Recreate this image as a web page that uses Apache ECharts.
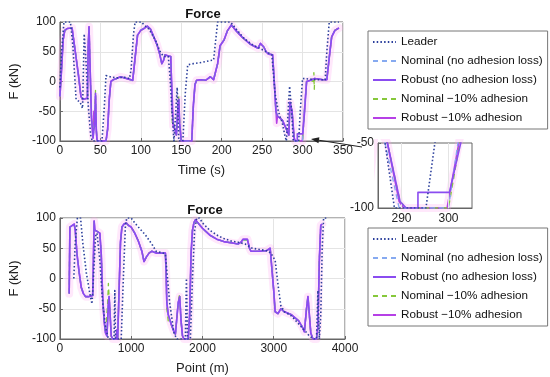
<!DOCTYPE html>
<html><head><meta charset="utf-8">
<script src="https://cdn.jsdelivr.net/npm/echarts@6/dist/echarts.min.js"></script>
<style>html,body{margin:0;padding:0;background:#fff}#c{width:550px;height:377px}</style>
</head><body><div id="c"></div>
<script>
// ---------- names / ticks ----------
const seriesNames = ['Leader','Nominal (no adhesion loss)','Robust (no adhesion loss)','Nominal −10% adhesion','Robust −10% adhesion'];
const titles = ['Force','Force'];
const axisNames = {topX:'Time (s)', bottomX:'Point (m)', y:'F (kN)'};
const topXRange = [0, 350, 50];
const bottomXRange = [0, 4000, 1000];
const yRange = [-100, 100, 50];
const insetXRange = [285, 305];
const insetXTicks = [290, 300];
const insetYRange = [-100, -50, 50];

// ---------- top chart: time (s) vs force (kN) ----------
const topLeader = [[0,-10],[2,50],[5,100],[13,100],[16,60],[20,-30],[25,-35],[28,-45],[30,80],[32,40],[35,-40],[38,-90],[40,-100],[52,-100],[55,-40],[57,10],[62,8],[70,6],[80,7],[86,5],[88,20],[91,80],[93,100],[101,100],[104,95],[110,88],[118,70],[124,50],[128,42],[134,42],[136,10],[139,-60],[141,-100],[143,-100],[145,-10],[147,-100],[152,-100],[155,-20],[158,28],[165,30],[175,32],[185,35],[190,36],[195,100],[211,100],[218,88],[228,72],[238,62],[248,55],[258,48],[262,45],[266,-20],[270,-50],[275,-70],[278,-90],[280,-100],[282,-100],[284,-8],[286.5,-50],[288.5,-100],[295.2,-100],[297.1,-50],[300,5],[310,4],[320,3],[328,3],[330,50],[333,100],[345,100]];
const topNominal = [[0,-25],[2,25],[4,72],[6,86],[9,89],[15,90],[17,70],[20,40],[23,10],[26,-25],[28,-30],[34,-28],[35,60],[36,90],[37,40],[39,-60],[41,-95],[43,-70],[44,-20],[45,-80],[46,-100],[57,-100],[59,-80],[61,-30],[63,0],[66,3],[70,5],[75,8],[80,6],[85,4],[90,2],[93,42],[96,80],[100,87],[105,90],[108,93],[112,88],[116,75],[120,62],[123,48],[126,30],[128,35],[130,45],[134,43],[137,42],[138,0],[139,-50],[140,-70],[142,-80],[144,-90],[146,-40],[147,-30],[148,-70],[150,-100],[163,-100],[165,-40],[167,-5],[169,2],[175,3],[180,2],[183,5],[186,8],[190,3],[192,2],[195,30],[198,60],[203,70],[207,85],[212,95],[218,85],[225,75],[235,63],[245,56],[248,63],[250,65],[252,58],[255,50],[258,46],[263,45],[265,0],[267,-50],[269,-58],[271,-55],[275,-65],[280,-80],[283,-90],[284.5,-35],[286.5,-50],[289.5,-100],[300,-100],[302,-50],[305,0],[310,2],[315,5],[320,4],[325,3],[330,3],[333,42],[336,76],[340,86],[345,90]];
const topRobust = [[0,-25],[2,20],[4,70],[6,86],[9,89],[15,90],[17,70],[20,40],[23,10],[26,-25],[28,-30],[34,-28],[35,60],[36,92],[37,40],[39,-60],[41,-95],[43,-70],[44,-20],[45,-80],[46,-100],[57,-100],[59,-80],[61,-30],[63,0],[66,3],[70,5],[75,8],[80,6],[85,4],[90,2],[93,40],[96,78],[100,86],[105,90],[108,93],[112,88],[116,75],[120,62],[123,48],[126,30],[128,35],[130,45],[134,43],[137,42],[138,0],[139,-50],[140,-70],[142,-80],[144,-90],[146,-40],[147,-30],[148,-70],[150,-100],[163,-100],[165,-40],[167,-5],[169,2],[175,3],[180,2],[183,5],[186,8],[190,3],[192,2],[195,30],[198,60],[203,70],[207,85],[212,95],[218,85],[225,75],[235,63],[245,56],[248,64],[250,66],[252,58],[255,50],[258,46],[263,45],[265,0],[267,-50],[269,-58],[271,-55],[275,-65],[280,-80],[283,-90],[284.5,-35],[287,-50],[289.7,-95],[291,-100],[293.5,-100],[293.5,-88],[300.2,-88],[302.6,-50],[305,0],[310,2],[315,5],[320,4],[325,3],[330,3],[333,40],[336,75],[340,86],[345,90]];
const topNominal10 = [[0,-25],[2,22],[4,70],[6,85],[9,89],[15,90],[17,70],[20,40],[23,10],[26,-25],[28,-30],[34,-28],[35,60],[36,90],[37,40],[39,-60],[41,-90],[43,-60],[44,-15],[45,-80],[46,-100],[57,-100],[59,-80],[61,-30],[63,0],[66,3],[70,5],[75,8],[80,6],[85,4],[90,2],[93,40],[96,78],[100,86],[105,90],[108,93],[112,88],[116,75],[120,62],[123,48],[126,30],[128,35],[130,45],[134,43],[137,42],[138,-10],[139,-70],[140,-60],[142,-80],[144,-90],[146,-40],[147,-25],[148,-70],[150,-100],[163,-100],[165,-40],[167,-5],[169,2],[175,3],[180,2],[183,5],[186,8],[190,3],[192,2],[195,30],[198,60],[203,70],[207,85],[212,95],[218,85],[225,75],[235,63],[245,56],[248,64],[250,66],[252,58],[255,50],[258,46],[263,45],[265,0],[267,-50],[269,-58],[271,-55],[275,-65],[280,-80],[283,-90],[284.5,-35],[287,-50],[289.7,-95],[291,-100],[300,-100],[302.4,-50],[305,0],[310,2],[313,0],[314,15],[314.5,-13],[315,5],[320,4],[325,3],[330,3],[333,40],[336,75],[340,86],[345,90]];
const topRobust10 = [[0,-25],[2,20],[4,70],[6,86],[9,89],[15,90],[17,70],[20,40],[23,10],[26,-25],[28,-30],[34,-28],[35,60],[36,92],[37,40],[39,-60],[41,-95],[42,-50],[43,-75],[44,-25],[45,-85],[46,-100],[57,-100],[59,-80],[61,-30],[63,0],[66,3],[70,5],[75,8],[80,6],[85,4],[90,2],[93,40],[96,78],[100,86],[105,90],[108,93],[112,88],[116,75],[120,62],[123,48],[126,30],[128,35],[130,45],[134,43],[137,42],[138,0],[139,-30],[140,-75],[142,-80],[144,-90],[146,-40],[147,-30],[148,-70],[150,-100],[163,-100],[165,-40],[167,-5],[169,2],[175,3],[180,2],[183,5],[186,8],[190,3],[192,2],[195,30],[198,60],[203,70],[207,85],[212,95],[218,85],[225,75],[235,63],[245,56],[248,64],[250,66],[252,58],[255,50],[258,46],[263,45],[265,0],[267,-45],[268,-70],[269,-58],[271,-55],[275,-65],[280,-80],[283,-90],[284.5,-35],[287,-50],[289.5,-95],[290.5,-100],[299.7,-100],[302.2,-50],[305,0],[310,2],[315,5],[320,4],[325,3],[330,3],[333,40],[336,75],[340,86],[345,90]];

// ---------- bottom chart: point (m) vs force (kN) ----------
const bottomLeader = [[195,0],[215,60],[245,100],[290,100],[320,60],[370,10],[420,-25],[450,-42],[470,0],[500,70],[520,75],[560,30],[600,-40],[640,-80],[680,-100],[760,-100],[770,-20],[780,-100],[860,-100],[890,0],[920,90],[940,100],[1000,100],[1050,92],[1100,85],[1200,72],[1300,55],[1350,45],[1450,42],[1480,40],[1540,-40],[1600,-90],[1640,-100],[1760,-100],[1775,0],[1790,-100],[1830,-100],[1860,0],[1890,80],[1920,100],[1960,100],[2000,92],[2100,80],[2200,72],[2300,66],[2400,62],[2500,60],[2600,57],[2700,50],[2800,48],[2900,46],[2960,42],[3020,30],[3060,-10],[3100,-45],[3150,-55],[3250,-62],[3350,-75],[3450,-88],[3500,-95],[3560,-100],[3600,-100],[3620,-20],[3640,-100],[3660,-60],[3680,50],[3700,100],[3750,100]];
const bottomNominal = [[130,-25],[140,85],[160,88],[200,90],[215,80],[240,40],[270,10],[300,-15],[330,-25],[360,-30],[400,-30],[460,-28],[470,30],[480,93],[490,80],[520,78],[560,75],[580,40],[600,-30],[620,-70],[640,-90],[660,-95],[680,-40],[690,-30],[700,-50],[720,-95],[740,-100],[790,-100],[800,-85],[810,-100],[830,-20],[850,62],[870,85],[900,90],[930,92],[960,88],[1000,85],[1050,75],[1100,62],[1150,45],[1180,28],[1210,35],[1250,42],[1290,45],[1350,42],[1480,42],[1490,10],[1500,-40],[1520,-60],[1560,-75],[1600,-88],[1620,-92],[1660,-40],[1680,-30],[1700,-70],[1720,-95],[1740,-100],[1800,-100],[1820,-60],[1840,40],[1860,80],[1880,92],[1900,97],[1950,90],[2000,83],[2100,72],[2200,65],[2300,61],[2400,59],[2500,57],[2540,60],[2570,64],[2630,64],[2660,50],[2680,45],[2800,45],[2900,46],[2950,50],[3000,-20],[3020,-55],[3060,-58],[3100,-50],[3150,-55],[3250,-60],[3350,-70],[3400,-80],[3430,-88],[3460,-50],[3480,-30],[3500,-60],[3520,-90],[3550,-100],[3600,-100],[3620,-80],[3640,30],[3660,88],[3680,92]];
const bottomRobust = [[130,-25],[140,85],[160,88],[200,90],[215,80],[240,40],[270,10],[300,-15],[330,-25],[360,-30],[400,-30],[460,-28],[470,30],[480,95],[490,80],[520,78],[560,75],[580,40],[600,-30],[620,-70],[640,-90],[660,-95],[680,-40],[690,-30],[700,-50],[720,-95],[740,-100],[790,-100],[800,-85],[810,-100],[830,-20],[850,60],[870,85],[900,90],[930,92],[960,88],[1000,85],[1050,75],[1100,62],[1150,45],[1180,28],[1210,35],[1250,42],[1290,45],[1350,42],[1480,42],[1490,10],[1500,-40],[1520,-60],[1560,-75],[1600,-88],[1620,-92],[1660,-40],[1680,-30],[1700,-70],[1720,-95],[1740,-100],[1800,-100],[1820,-60],[1840,40],[1860,80],[1880,92],[1900,97],[1950,90],[2000,83],[2100,72],[2200,65],[2300,61],[2400,59],[2500,57],[2540,60],[2570,65],[2630,65],[2660,50],[2680,45],[2800,45],[2900,46],[2950,50],[3000,-20],[3020,-55],[3060,-58],[3100,-50],[3150,-55],[3250,-60],[3350,-70],[3400,-80],[3430,-88],[3460,-50],[3480,-30],[3500,-60],[3520,-90],[3550,-100],[3600,-100],[3620,-80],[3640,30],[3660,88],[3680,90]];
const bottomNominal10 = [[130,-25],[140,85],[160,88],[200,90],[215,80],[240,40],[270,10],[300,-15],[330,-25],[360,-30],[400,-30],[460,-28],[470,30],[480,93],[490,80],[520,78],[560,75],[580,40],[600,-30],[620,-70],[640,-90],[660,-90],[670,-40],[680,-8],[690,-30],[700,-50],[720,-95],[740,-100],[790,-100],[800,-85],[810,-100],[830,-20],[850,60],[870,85],[900,90],[930,92],[960,88],[1000,85],[1050,75],[1100,62],[1150,45],[1180,28],[1210,35],[1250,42],[1290,45],[1350,42],[1480,42],[1490,10],[1500,-50],[1520,-70],[1560,-75],[1600,-88],[1620,-92],[1660,-40],[1680,-25],[1700,-70],[1720,-95],[1740,-100],[1800,-100],[1820,-60],[1840,40],[1860,80],[1880,92],[1900,97],[1950,90],[2000,83],[2100,72],[2200,65],[2300,61],[2400,59],[2500,57],[2540,60],[2570,63],[2630,63],[2660,50],[2680,45],[2800,45],[2900,46],[2950,50],[3000,-20],[3020,-55],[3060,-58],[3100,-50],[3150,-55],[3250,-60],[3350,-70],[3400,-80],[3430,-88],[3460,-50],[3480,-30],[3500,-60],[3520,-90],[3550,-100],[3600,-100],[3620,-80],[3640,30],[3660,88],[3680,92]];
const bottomRobust10 = [[130,-25],[140,85],[160,88],[200,90],[215,80],[240,40],[270,10],[300,-15],[330,-25],[360,-30],[400,-30],[460,-28],[470,30],[480,95],[490,80],[520,78],[560,75],[580,40],[600,-30],[620,-70],[640,-90],[660,-95],[680,-40],[690,-30],[700,-50],[720,-95],[740,-100],[790,-100],[800,-85],[810,-100],[830,-20],[850,60],[870,85],[900,90],[930,92],[960,88],[1000,85],[1050,75],[1100,62],[1150,45],[1180,28],[1210,35],[1250,42],[1290,45],[1350,42],[1480,42],[1490,10],[1500,-40],[1520,-60],[1560,-75],[1600,-88],[1620,-92],[1660,-40],[1680,-30],[1700,-70],[1720,-95],[1740,-100],[1800,-100],[1820,-60],[1840,40],[1860,80],[1880,92],[1900,97],[1950,90],[2000,83],[2100,72],[2200,65],[2300,61],[2400,59],[2500,57],[2540,60],[2570,65],[2630,65],[2660,50],[2680,45],[2800,45],[2900,46],[2950,50],[3000,-20],[3020,-55],[3060,-58],[3100,-50],[3150,-55],[3250,-60],[3350,-70],[3400,-80],[3430,-88],[3460,-50],[3480,-30],[3500,-60],[3520,-90],[3550,-100],[3600,-100],[3620,-80],[3640,30],[3660,88],[3680,90]];

// ---------- styling ----------
const FONT = 'Liberation Sans, Arial, Helvetica, sans-serif';
const styles = [
  {color:'#2b3f9c', width:1.6, type:[1.5,2.2], z:7},
  {color:'#86aaf0', width:1.3, type:[5,4], z:4},
  {color:'#8a4cf0', width:1.6, type:'solid', z:6},
  {color:'#86c83a', width:1.3, type:[5,4], z:3},
  {color:'#b640e6', width:1.6, type:'solid', z:2}
];
const bandColor = 'rgba(255,160,238,0.24)';
const gridColor = '#e4e4e4';
const frameColor = '#666';
const plainNum = v => String(v);

function mkSeries(name, data, gi, st) {
  return {type:'line', name:name, data:data, xAxisIndex:gi, yAxisIndex:gi,
    symbol:'none', showSymbol:false, silent:true, z:st.z, animation:false,
    lineStyle:{color:st.color, width:st.width, type:st.type, cap:'butt', join:'round'},
    itemStyle:{color:st.color}};
}
function seriesFor(gi, sets) {
  const out = [];
  const band = {type:'line', name:'band', data:sets[4], xAxisIndex:gi, yAxisIndex:gi,
    symbol:'none', silent:true, z:1, animation:false,
    lineStyle:{color:bandColor, width:8, join:'round', cap:'round'}};
  if (gi === 2) {
    band.markLine = {silent:true, symbol:'none', label:{show:false}, animation:false,
      lineStyle:{color:gridColor, type:'solid', width:1},
      data: insetXTicks.map(v => ({xAxis:v}))};
  }
  out.push(band);
  sets.forEach((d,i) => out.push(mkSeries(seriesNames[i], d, gi, styles[i])));
  return out;
}
const topSets = [topLeader, topNominal, topRobust, topNominal10, topRobust10];
const bottomSets = [bottomLeader, bottomNominal, bottomRobust, bottomNominal10, bottomRobust10];

const labelStyle = {fontFamily:FONT, fontSize:12, color:'#222', formatter:plainNum};
function xAxisCfg(gi, r, name) {
  return {type:'value', gridIndex:gi, min:r[0], max:r[1], interval:r[2],
    name:name, nameLocation:'middle', nameGap:23,
    nameTextStyle:{fontFamily:FONT, fontSize:13, color:'#222'},
    axisLine:{show:true, onZero:false, lineStyle:{color:frameColor}},
    axisTick:{show:true, inside:true, length:3, lineStyle:{color:frameColor}},
    axisLabel:Object.assign({margin:4}, labelStyle),
    splitLine:{show:true, lineStyle:{color:gridColor}}};
}
function yAxisCfg(gi, r, name) {
  return {type:'value', gridIndex:gi, min:r[0], max:r[1], interval:r[2],
    name:name, nameLocation:'middle', nameGap:30, nameRotate:90,
    nameTextStyle:{fontFamily:FONT, fontSize:13, color:'#222'},
    axisLine:{show:true, onZero:false, lineStyle:{color:frameColor}},
    axisTick:{show:true, inside:true, length:3, lineStyle:{color:frameColor}},
    axisLabel:Object.assign({margin:4}, labelStyle),
    splitLine:{show:true, lineStyle:{color:gridColor}}};
}

const legendBase = {orient:'vertical', left:368, itemWidth:23, itemHeight:14, itemGap:5,
  padding:[4,5,4,4], borderColor:'#777', borderWidth:1, backgroundColor:'#fff',
  selectedMode:false, data:seriesNames,
  itemStyle:{opacity:0, borderWidth:0},
  textStyle:{fontFamily:FONT, fontSize:11.7, color:'#111', lineHeight:14}};

const insetX = {type:'value', gridIndex:2, min:insetXRange[0], max:insetXRange[1],
  axisLine:{show:true, onZero:false, lineStyle:{color:frameColor}},
  axisTick:{show:true, inside:true, length:3, customValues:insetXTicks, lineStyle:{color:frameColor}},
  axisLabel:Object.assign({margin:5, customValues:insetXTicks}, labelStyle),
  splitLine:{show:false}};
const insetY = {type:'value', gridIndex:2, min:insetYRange[0], max:insetYRange[1], interval:insetYRange[2],
  axisLine:{show:true, onZero:false, lineStyle:{color:frameColor}},
  axisTick:{show:true, inside:true, length:3, lineStyle:{color:frameColor}},
  axisLabel:Object.assign({margin:4}, labelStyle),
  splitLine:{show:false}};

// arrow annotation from inset to the top plot
const tip = [311,139], tail = [362,147];
const dx = tip[0]-tail[0], dy = tip[1]-tail[1], L = Math.hypot(dx,dy);
const ux = dx/L, uy = dy/L, hl = 8, hw = 3;
const bx = tip[0]-ux*hl, by = tip[1]-uy*hl;

const option = {
  backgroundColor:'#fff',
  animation:false,
  title:[
    {text:titles[0], left:198, top:3, textAlign:'center', textStyle:{fontFamily:FONT, fontSize:13, fontWeight:'bold', color:'#111'}},
    {text:titles[1], left:200, top:199, textAlign:'center', textStyle:{fontFamily:FONT, fontSize:13, fontWeight:'bold', color:'#111'}}
  ],
  legend:[
    Object.assign({}, legendBase, {top:31}),
    Object.assign({}, legendBase, {top:228})
  ],
  grid:[
    {left:53, top:22, width:290, height:119, show:true, borderColor:frameColor, borderWidth:1, backgroundColor:'#fff'},
    {left:54, top:218, width:291, height:121, show:true, borderColor:frameColor, borderWidth:1, backgroundColor:'#fff'},
    {left:378, top:143, width:94, height:65, show:true, borderColor:frameColor, borderWidth:1, backgroundColor:'#fff'}
  ],
  xAxis:[xAxisCfg(0, topXRange, axisNames.topX), xAxisCfg(1, bottomXRange, axisNames.bottomX), insetX],
  yAxis:[yAxisCfg(0, yRange, axisNames.y), yAxisCfg(1, yRange, axisNames.y), insetY],
  series:[].concat(seriesFor(0, topSets), seriesFor(1, bottomSets), seriesFor(2, topSets)),
  graphic:[
    {type:'line', shape:{x1:tail[0], y1:tail[1], x2:bx, y2:by}, style:{stroke:'#222', lineWidth:1}, z:100},
    {type:'polygon', shape:{points:[tip, [bx+uy*hw, by-ux*hw], [bx-uy*hw, by+ux*hw]]}, style:{fill:'#222'}, z:100}
  ]
};
const chart = echarts.init(document.getElementById('c'), null, {renderer:'canvas'});
chart.setOption(option);
</script></body></html>
